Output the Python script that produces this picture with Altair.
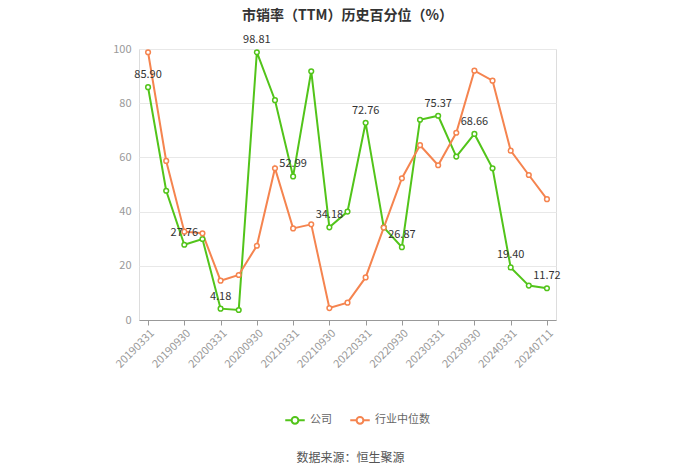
import altair as alt
import pandas as pd

dates = ["20190331","20190630","20190930","20191231","20200331","20200630","20200930","20201231",
         "20210331","20210630","20210930","20211231","20220331","20220630","20220930","20221231",
         "20230331","20230630","20230930","20231231","20240331","20240630","20240711"]
company = [85.90, 47.7, 27.76, 29.9, 4.18, 3.7, 98.81, 81.1, 52.99, 91.8, 34.18, 40.0,
           72.76, 34.2, 26.87, 73.9, 75.37, 60.3, 68.66, 56.0, 19.40, 12.7, 11.72]
industry = [98.8, 58.7, 32.6, 32.0, 14.5, 16.6, 27.4, 56.0, 33.8, 35.3, 4.4, 6.4,
            15.7, 34.1, 52.3, 64.5, 57.1, 69.1, 92.0, 88.3, 62.5, 53.5, 44.6]
series_names = ["公司", "行业中位数"]
colors = ["#52C41A", "#F5844F"]
axis_labels = dates[0::2] + [dates[-1]]
axis_labels = list(dict.fromkeys(axis_labels))

rows = []
for i, d in enumerate(dates):
    rows.append({"date": d, "series": series_names[0], "value": company[i], "idx": i, "order": 0})
    rows.append({"date": d, "series": series_names[1], "value": industry[i], "idx": i, "order": 1})
df = pd.DataFrame(rows)

FONT = "Noto Sans CJK SC"

x = alt.X("date:O", sort=dates, scale=alt.Scale(type="point", padding=0.5),
          axis=alt.Axis(values=axis_labels, labelAngle=-45, labelAlign="right", labelBaseline="top",
                        labelColor="#999999", labelFontSize=11, labelFont=FONT,
                        domainColor="#999999", tickColor="#999999", tickSize=5,
                        grid=False, title="数据来源：恒生聚源", titleFont=FONT, titleFontSize=12,
                        titleFontWeight="normal", titleColor="#555555",
                        titleX=211, titleY=137, titleAlign="center", titleBaseline="middle"))
y = alt.Y("value:Q", scale=alt.Scale(domain=[0, 100]),
          axis=alt.Axis(values=[0, 20, 40, 60, 80, 100], title=None, domain=False, ticks=False,
                        labelColor="#999999", labelFontSize=11, labelFont=FONT, labelPadding=8,
                        gridColor="#E8E8E8"))

legend_path = "M-1,0 L-0.35,0 M0.35,0 L1,0 M-0.35,0 A0.35,0.35 0 1,1 0.35,0 A0.35,0.35 0 1,1 -0.35,0"
color = alt.Color("series:N", sort=series_names,
                  scale=alt.Scale(domain=series_names, range=colors),
                  legend=alt.Legend(title=None, orient="none", direction="horizontal",
                                    legendX=145, legendY=360, symbolType=legend_path,
                                    symbolSize=380, symbolStrokeWidth=2, labelFont=FONT,
                                    labelFontSize=11, labelColor="#666666", columnPadding=14,
                                    symbolFillColor="white"))

base = alt.Chart(df)
lines = base.mark_line(strokeWidth=2).encode(x=x, y=y, color=color, detail="series:N")
points = base.mark_point(filled=True, fill="white", size=22, strokeWidth=1.5, opacity=1).encode(
    x=x, y=y, stroke=alt.Stroke("series:N", scale=alt.Scale(domain=series_names, range=colors), legend=None))
labels = base.transform_filter("datum.order == 0 && datum.idx % 2 == 0").mark_text(
    dy=-12, fontSize=11, font=FONT, color="#333333").encode(
    x=x, y=y, text=alt.Text("value:Q", format=".2f"))

chart = alt.layer(lines, points, labels).properties(
    width=417, height=271,
    title=alt.Title("市销率（TTM）历史百分位（%）", font=FONT, fontSize=14, fontWeight="bold",
                    color="#333333", offset=11, anchor="middle"),
    autosize=alt.AutoSizeParams(type="none"),
    padding={"left": 139, "top": 49, "right": 144, "bottom": 153},
).configure_view(stroke=None).configure(background="white")

chart.save("out.html", embed_options={"renderer": "svg", "actions": False})
